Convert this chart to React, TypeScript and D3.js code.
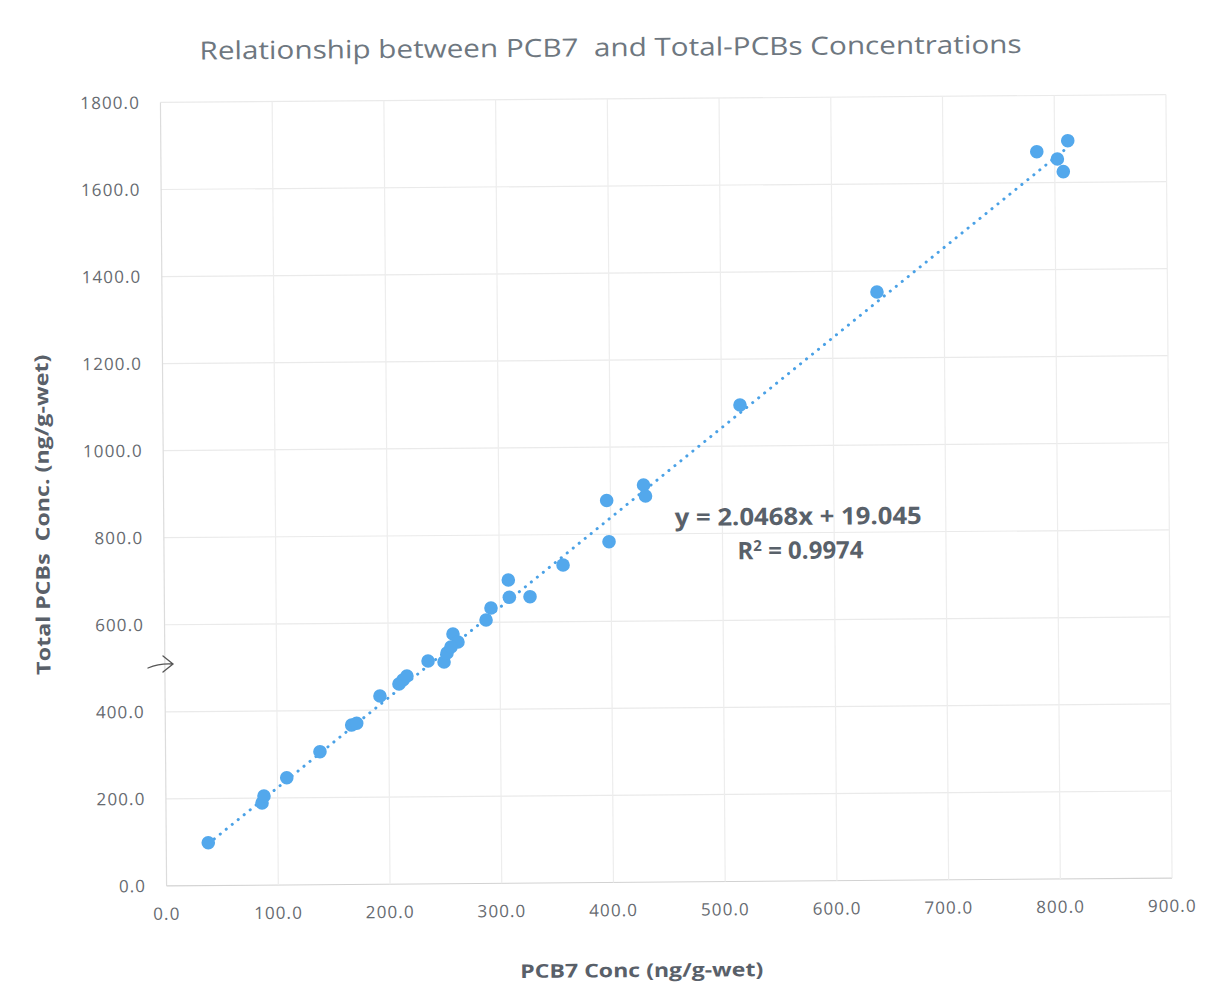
import React from "react";
import * as d3 from "d3";

const pcb7: number[] = [
  37.6, 86.0, 87.8, 108.3, 138.2, 166.8, 171.3, 192.3, 209.4, 213.0, 216.6,
  235.6, 249.9, 252.6, 258.1, 262.5, 256.2, 287.8, 292.3, 308.0, 308.8, 327.3,
  357.1, 396.6, 398.4, 429.7, 431.4, 516.6, 640.0, 784.0, 802.4, 807.6, 811.8,
];
const totalPcbs: number[] = [
  98.5, 188.8, 204.8, 246.4, 305.6, 366.3, 370.2, 432.5, 459.7, 468.8, 477.9,
  512.0, 509.4, 530.1, 573.6, 555.1, 543.7, 605.2, 632.6, 696.6, 656.9, 657.9,
  730.1, 877.5, 782.8, 912.4, 887.2, 1094.5, 1351.6, 1671.1, 1653.9, 1624.7, 1695.8,
];
const xTicks: number[] = [0, 100, 200, 300, 400, 500, 600, 700, 800, 900];
const yTicks: number[] = [0, 200, 400, 600, 800, 1000, 1200, 1400, 1600, 1800];
const slope = 2.0468;
const intercept = 19.045;
const r2 = "0.9974";

const title = "Relationship between PCB7  and Total-PCBs Concentrations";
const xTitle = "PCB7 Conc (ng/g-wet)";
const yTitle = "Total PCBs  Conc. (ng/g-wet)";

export default function App() {
  const x = d3.scaleLinear().domain([0, 900]).range([163.5, 1169]);
  const y = d3.scaleLinear().domain([0, 1800]).range([882.2, 98.7]);
  const xMin = d3.min(pcb7) as number;
  const xMax = d3.max(pcb7) as number;
  const trend = d3
    .line<number>()
    .x((d) => x(d))
    .y((d) => y(slope * d + intercept))([xMin, xMax]);
  const points = pcb7.map((v, i) => ({ x: v, y: totalPcbs[i] }));
  const font = "Open Sans, Lato, sans-serif";

  return (
    <svg
      width={1206}
      height={983}
      style={{ position: "absolute", left: 0, top: 0, background: "#fff" }}
    >
      <rect width={1206} height={983} fill="#ffffff" />
      <g transform="rotate(-0.45 640 490)">
        {/* gridlines */}
        {yTicks.map((t) => (
          <line
            key={"gy" + t}
            x1={x(0)}
            x2={x(900)}
            y1={y(t)}
            y2={y(t)}
            stroke={t === 0 ? "#d2d2d2" : "#eaeaea"}
            strokeWidth={1.2}
          />
        ))}
        {xTicks.map((t) => (
          <line
            key={"gx" + t}
            x1={x(t)}
            x2={x(t)}
            y1={y(0)}
            y2={y(1800)}
            stroke={t === 0 ? "#dcdcdc" : "#ededed"}
            strokeWidth={1.2}
          />
        ))}
        {/* tick labels */}
        {yTicks.map((t) => (
          <text
            key={"ly" + t}
            x={143}
            y={y(t)}
            dy="0.35em"
            textAnchor="end"
            fontFamily={font}
            fontSize={17}
            letterSpacing={1.1}
            fill="#666a70"
          >
            {d3.format(".1f")(t)}
          </text>
        ))}
        {xTicks.map((t) => (
          <text
            key={"lx" + t}
            x={x(t)}
            y={916}
            textAnchor="middle"
            fontFamily={font}
            fontSize={17}
            letterSpacing={1.1}
            fill="#666a70"
          >
            {d3.format(".1f")(t)}
          </text>
        ))}
        {/* trendline */}
        <path
          d={trend || ""}
          fill="none"
          stroke="#4aa1e6"
          strokeWidth={3}
          strokeDasharray="0.1 7.6"
          strokeLinecap="round"
        />
        {/* points */}
        {points.map((p, i) => (
          <circle key={i} cx={x(p.x)} cy={y(p.y)} r={6.8} fill="#53a8ec" />
        ))}
        {/* equation */}
        <text
          x={798}
          y={526}
          textAnchor="middle"
          fontFamily={font}
          fontWeight={700}
          fontSize={24}
          fill="#59616a"
          textLength={247}
          lengthAdjust="spacingAndGlyphs"
        >
          {`y = ${slope}x + ${intercept}`}
        </text>
        <text
          x={800}
          y={560}
          textAnchor="middle"
          fontFamily={font}
          fontWeight={700}
          fontSize={24}
          fill="#59616a"
        >
          R<tspan dy={-8} fontSize={15}>2</tspan>
          <tspan dy={8}>{` = ${r2}`}</tspan>
        </text>
        {/* titles */}
        <text
          x={614}
          y={56}
          textAnchor="middle"
          fontFamily={font}
          fontSize={25}
          fill="#6e7780"
          style={{ whiteSpace: "pre" }}
          textLength={822}
          lengthAdjust="spacingAndGlyphs"
        >
          {title}
        </text>
        <text
          x={638}
          y={977}
          textAnchor="middle"
          fontFamily={font}
          fontWeight={700}
          fontSize={19}
          fill="#596069"
          textLength={243}
          lengthAdjust="spacingAndGlyphs"
        >
          {xTitle}
        </text>
        <text
          transform={`translate(49 510) rotate(-90)`}
          textAnchor="middle"
          fontFamily={font}
          fontWeight={700}
          fontSize={19}
          fill="#596069"
          style={{ whiteSpace: "pre" }}
          textLength={320}
          lengthAdjust="spacingAndGlyphs"
        >
          {yTitle}
        </text>
      </g>
      {/* handwritten arrow mark on the scan */}
      <path
        d="M148,668 Q160,663 173,664 M163,656 L173,664 L163,672"
        fill="none"
        stroke="#555"
        strokeWidth={1.3}
        strokeLinecap="round"
      />
    </svg>
  );
}
